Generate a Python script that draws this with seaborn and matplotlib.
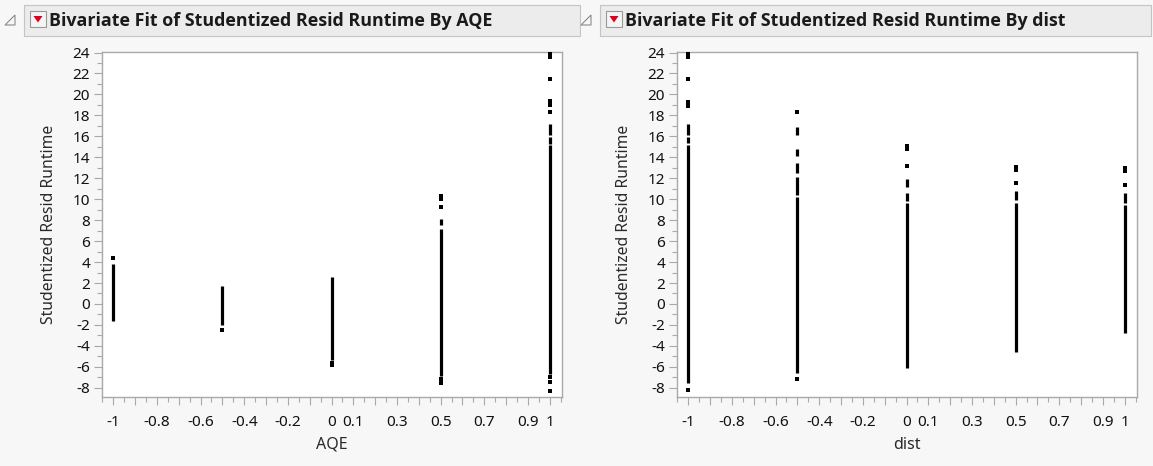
import matplotlib
matplotlib.use("Agg")
import matplotlib.pyplot as plt
import seaborn as sns
import pandas as pd
import numpy as np
from matplotlib.patches import Rectangle, Polygon

# ---------------- data ----------------
x_levels = [-1, -0.5, 0, 0.5, 1]
xtick_labels = ["-1", "-0.8", "-0.6", "-0.4", "-0.2", "0", "0.1", "0.3", "0.5", "0.7", "0.9", "1"]
xtick_values = [-1, -0.8, -0.6, -0.4, -0.2, 0, 0.1, 0.3, 0.5, 0.7, 0.9, 1]
ytick_values = [-8, -6, -4, -2, 0, 2, 4, 6, 8, 10, 12, 14, 16, 18, 20, 22, 24]

# dense runs of points (drawn as a solid column): x, low, high
aqe_run_x = [-1, -0.5, 0, 0.5, 0.5, 1, 1, 1]
aqe_run_lo = [-1.6, -2.0, -5.3, 7.5, -6.9, 16.1, 15.3, -6.7]
aqe_run_hi = [3.8, 1.7, 2.6, 8.1, 7.2, 17.2, 15.9, 15.2]
# isolated points
aqe_pt_x = [-1, -0.5, 0, 0, 0.5, 0.5, 0.5, 0.5, 0.5, 1, 1, 1, 1, 1, 1, 1, 1, 1]
aqe_pt_y = [4.4, -2.5, -5.6, -5.8, 10.3, 10.0, 9.3, -7.2, -7.5,
            23.9, 23.6, 21.5, 19.4, 19.0, 18.3, -7.0, -7.4, -8.3]

dist_run_x = [-1, -1, -1, -0.5, -0.5, -0.5, -0.5, -0.5, 0, 0, 0, 0.5, 0.5, 1, 1]
dist_run_lo = [16.1, 15.4, -7.5, 16.1, 14.1, 12.5, 10.4, -6.6, 11.2, 9.8, -6.1, 9.9, -4.6, 9.6, -2.8]
dist_run_hi = [17.2, 15.9, 15.2, 16.9, 14.8, 13.5, 12.1, 10.2, 11.9, 10.6, 9.6, 10.8, 9.6, 10.6, 9.4]
dist_pt_x = [-1, -1, -1, -1, -1, -1, -0.5, -0.5, 0, 0, 0, 0.5, 0.5, 0.5, 1, 1, 1]
dist_pt_y = [23.9, 23.6, 21.5, 19.3, 18.9, -8.2, 18.3, -7.2, 15.1, 14.8, 13.2,
             13.1, 12.8, 11.5, 13.0, 12.7, 11.4]

titles = ["Bivariate Fit of Studentized Resid Runtime By AQE",
          "Bivariate Fit of Studentized Resid Runtime By dist"]
xlabels = ["AQE", "dist"]
ylabel = "Studentized Resid Runtime"

# ---------------- style ----------------
sns.set_theme(style="white")
plt.rcParams['font.family'] = ['Noto Sans', 'DejaVu Sans']

W, H = 1153, 466
fig = plt.figure(figsize=(W / 100, H / 100), dpi=100)
fig.patch.set_facecolor("#f7f7f7")

def fx(px):
    return px / W

def fy(py):
    return 1 - py / H

frame_col = "#a9a9a9"
text_col = "#111111"

ax_left_px = [101.7, 676.7]
ax_w_px = 460.3
ax_top, ax_bot = 52.3, 396.7

runs = [(aqe_run_x, aqe_run_lo, aqe_run_hi), (dist_run_x, dist_run_lo, dist_run_hi)]
pts = [(aqe_pt_x, aqe_pt_y), (dist_pt_x, dist_pt_y)]

header_x = [(24, 580), (600, 1151)]

for i in range(2):
    # header bar
    hx0, hx1 = header_x[i]
    fig.patches.append(Rectangle((fx(hx0), fy(36)), fx(hx1 - hx0), 31 / H,
                                 transform=fig.transFigure, facecolor="#ececec",
                                 edgecolor="#c4c4c4", linewidth=0.8, zorder=0))
    # disclosure triangle
    dx = hx0 - 20
    fig.patches.append(Polygon([(fx(dx + 1), fy(25)), (fx(dx + 11), fy(25)), (fx(dx + 11), fy(15))],
                               closed=True, transform=fig.transFigure, facecolor="none",
                               edgecolor="#8a8a8a", linewidth=0.8))
    # red popup icon
    ix = hx0 + 6
    fig.patches.append(Rectangle((fx(ix), fy(27)), fx(16), 16 / H, transform=fig.transFigure,
                                 facecolor="#f4f4f4", edgecolor="#9a9a9a", linewidth=0.8))
    fig.patches.append(Polygon([(fx(ix + 3.5), fy(16)), (fx(ix + 12.5), fy(16)), (fx(ix + 8), fy(22.5))],
                               closed=True, transform=fig.transFigure, facecolor="#d9001b",
                               edgecolor="none"))
    fig.text(fx(hx0 + 25), fy(21), titles[i], fontsize=12.9, fontweight="bold",
             family=["Open Sans", "DejaVu Sans"], color="#1a1a1a", ha="left", va="center")

    ax = fig.add_axes([fx(ax_left_px[i]), fy(ax_bot), fx(ax_w_px), (ax_bot - ax_top) / H])
    ax.set_facecolor("white")
    rx, rlo, rhi = runs[i]
    ax.vlines(rx, rlo, rhi, colors="black", linewidth=2.3, capstyle="butt", zorder=3)
    df = pd.DataFrame({"x": pts[i][0], "y": pts[i][1]})
    sns.scatterplot(data=df, x="x", y="y", ax=ax, marker="s", s=6, color="black",
                    linewidth=0, zorder=4, legend=False)

    ax.set_xlim(-1.053, 1.056)
    ax.set_ylim(-8.85, 24.02)
    major_x = [round(float(v), 1) for v in np.arange(-1.0, 1.0001, 0.1)]
    major_x = [0.0 if abs(v) < 1e-9 else v for v in major_x]
    ax.set_xticks(major_x)
    ax.set_xticklabels([xtick_labels[xtick_values.index(v)] if v in xtick_values else "" for v in major_x])
    ax.set_xticks([round(float(v), 2) for v in np.arange(-1.05, 1.06, 0.1)], minor=True)
    ax.set_yticks(ytick_values)
    ax.set_yticklabels([str(v) for v in ytick_values])
    ax.set_yticks(list(range(-8, 25, 1)), minor=True)
    ax.tick_params(axis="both", which="major", direction="out", length=6, width=0.8,
                   color=frame_col, labelsize=11, labelcolor=text_col, pad=2.5)
    ax.tick_params(axis="x", which="major", pad=7)
    ax.tick_params(axis="both", which="minor", direction="out", length=3.5, width=0.8,
                   color=frame_col)
    ax.tick_params(axis="x", which="both", bottom=True)
    ax.tick_params(axis="y", which="both", left=True)
    for s in ax.spines.values():
        s.set_color(frame_col)
        s.set_linewidth(1.0)
    ax.set_xlabel(xlabels[i], fontsize=11.5, color="#2a2a2a", labelpad=5)
    ax.set_ylabel(ylabel, fontsize=11.3, color="#2a2a2a", labelpad=11)

fig.savefig("out.png", dpi=100, facecolor=fig.get_facecolor())
